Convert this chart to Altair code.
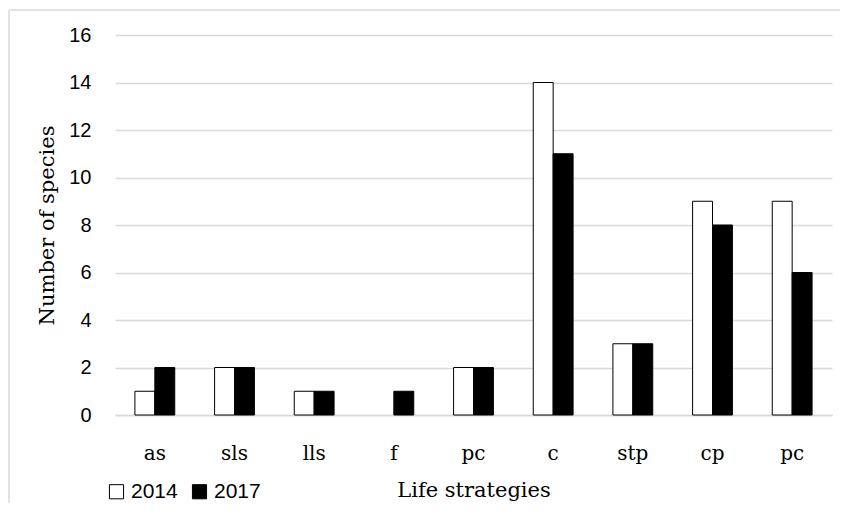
import altair as alt
import pandas as pd

categories = ["as", "sls", "lls", "f", "pc", "c", "stp", "cp", "pc "]
v2014 = [1, 2, 1, 0, 2, 14, 3, 9, 9]
v2017 = [2, 2, 1, 1, 2, 11, 3, 8, 6]
years = ["2014", "2017"]

rows = []
for c, a, b in zip(categories, v2014, v2017):
    rows.append({"cat": c, "year": "2014", "n": a})
    rows.append({"cat": c, "year": "2017", "n": b})
df = pd.DataFrame(rows)

serif = "DejaVu Serif"
sans = "Liberation Sans"

bars = alt.Chart(df).transform_filter("datum.n > 0").mark_bar(stroke="black", strokeWidth=1).encode(
    x=alt.X("cat:N", sort=categories,
            scale=alt.Scale(paddingInner=0.5, paddingOuter=0.25),
            axis=alt.Axis(title="Life strategies", labelAngle=0, ticks=False,
                          domainColor="#d9d9d9", domainWidth=1.5,
                          labelFont=serif, labelFontSize=20,
                          labelColor="black", labelPadding=28, labelExpr="trim(datum.label)",
                          titleFont=serif, titleFontSize=21, titleFontWeight="normal",
                          titleColor="black", titlePadding=16)),
    xOffset=alt.XOffset("year:N", sort=years, scale=alt.Scale(paddingInner=0, paddingOuter=0)),
    y=alt.Y("n:Q", scale=alt.Scale(domain=[0, 16]),
            axis=alt.Axis(title="Number of species", values=list(range(0, 17, 2)),
                          ticks=False, domain=False, gridColor="#d9d9d9", gridWidth=1.5,
                          labelFont=sans, labelFontSize=20, labelColor="black", labelPadding=24,
                          titleFont=serif, titleFontSize=21, titleFontWeight="normal",
                          titleColor="black", titlePadding=11)),
    fill=alt.Fill("year:N", sort=years,
                  scale=alt.Scale(domain=years, range=["white", "black"]),
                  legend=alt.Legend(title=None, orient="none", legendX=-9, legendY=446,
                                    direction="horizontal", symbolType="square",
                                    symbolSize=200, symbolStrokeColor="black", symbolStrokeWidth=1,
                                    labelFont=sans, labelFontSize=21, labelColor="black",
                                    columnPadding=11, labelOffset=4)),
)

base = alt.Chart(pd.DataFrame({"a": [0]}))
frame_top = base.mark_rule(color="#d9d9d9", strokeWidth=1.5).encode(
    x=alt.value(-106), x2=alt.value(725), y=alt.value(-25))
frame_left = base.mark_rule(color="#d9d9d9", strokeWidth=1.5).encode(
    x=alt.value(-106), y=alt.value(-25), y2=alt.value(470))

chart = alt.layer(frame_top, frame_left, bars).properties(
    width=717, height=380,
    autosize=alt.AutoSizeParams(type="none"),
    padding={"left": 107, "top": 27, "right": 8, "bottom": 88},
).configure(background="white", view=alt.ViewConfig(stroke=None))

chart.save("out.html", embed_options={"renderer": "svg", "actions": False})
